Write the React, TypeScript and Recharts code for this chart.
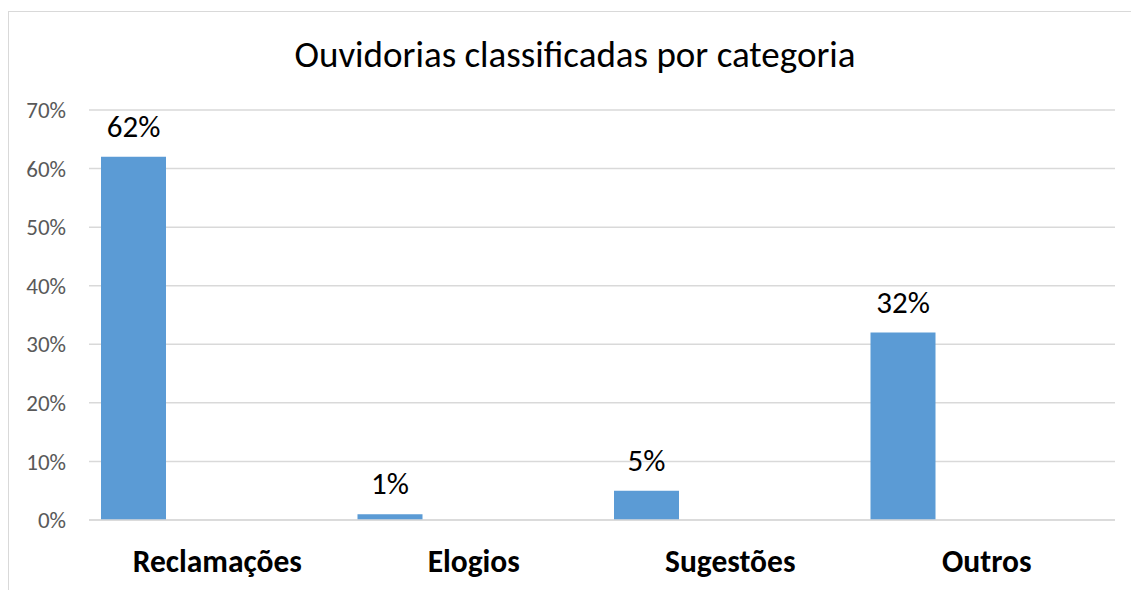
import React from "react";
import { BarChart, Bar, XAxis, YAxis, CartesianGrid, LabelList } from "recharts";

const categories = ["Reclamações", "Elogios", "Sugestões", "Outros"];
const shares = [0.62, 0.01, 0.05, 0.32];
const yTicks = [0, 0.1, 0.2, 0.3, 0.4, 0.5, 0.6, 0.7];

const data = categories.map((name, i) => ({ name, valor: shares[i], vazio: null }));

const FONT = "Carlito, Calibri, Lato, sans-serif";
const pct = (v: any) => (v == null ? "" : `${Math.round(Number(v) * 100)}%`);

export default function App() {
  return (
    <div style={{ position: "absolute", left: 0, top: 0, width: 1131, height: 590, overflow: "hidden", background: "#fff" }}>
      <div
        style={{
          position: "absolute",
          left: 8,
          top: 11,
          width: 1200,
          height: 700,
          borderLeft: "1px solid #d9d9d9",
          borderTop: "1px solid #d9d9d9",
        }}
      />
      <div
        style={{
          position: "absolute",
          left: 0,
          width: 1150,
          top: 33,
          textAlign: "center",
          fontFamily: FONT,
          fontSize: 37,
          lineHeight: "44px",
          color: "#000",
        }}
      >
        Ouvidorias classificadas por categoria
      </div>
      <BarChart
        width={1131}
        height={590}
        data={data}
        margin={{ top: 110, right: 16, left: 0, bottom: 0 }}
        barCategoryGap={12}
        barGap={102}
        style={{ position: "absolute", left: 0, top: 0 }}
      >
        <CartesianGrid vertical={false} stroke="#d9d9d9" strokeWidth={1.5} />
        <XAxis
          dataKey="name"
          height={70}
          axisLine={{ stroke: "#d9d9d9", strokeWidth: 1.5 }}
          tickLine={false}
          tickSize={0}
          tickMargin={30}
          tick={{ fontFamily: FONT, fontSize: 31.5, fontWeight: 700, fill: "#000" }}
        />
        <YAxis
          width={89}
          domain={[0, 0.7]}
          ticks={yTicks}
          tickFormatter={pct}
          axisLine={false}
          tickLine={false}
          tickSize={0}
          tickMargin={23}
          tick={{ fontFamily: FONT, fontSize: 23, fill: "#595959" }}
        />
        <Bar dataKey="valor" fill="#5b9bd5" isAnimationActive={false}>
          <LabelList
            dataKey="valor"
            position="top"
            offset={20}
            formatter={pct}
            style={{ fontFamily: FONT, fontSize: 31, fill: "#000" }}
          />
        </Bar>
        <Bar dataKey="vazio" fill="#ed7d31" isAnimationActive={false} />
      </BarChart>
    </div>
  );
}
